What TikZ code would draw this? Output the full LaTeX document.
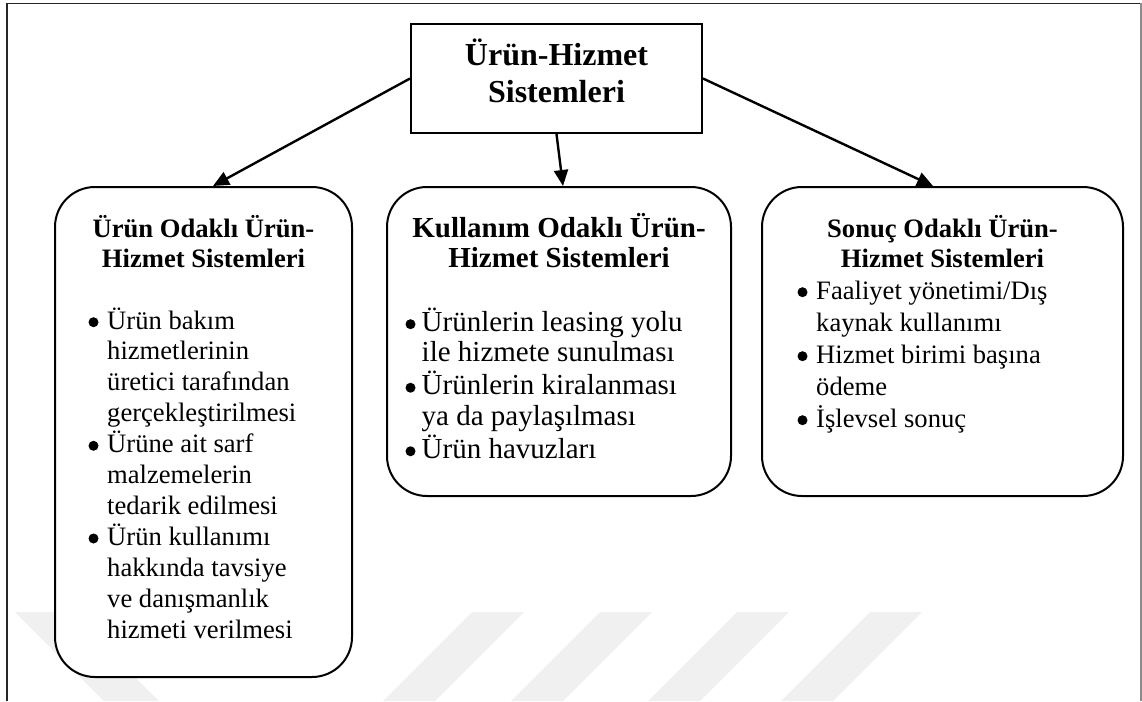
\documentclass[tikz,border=0pt]{standalone}
\usepackage{fontspec}
\setmainfont{Liberation Serif}
\usetikzlibrary{arrows.meta}

% round list bullet followed by a fixed gap before the item text
\newcommand\blt[1]{\makebox[#1][l]{\hspace{0.3pt}\raisebox{1.8pt}{\tikz\fill (0,0) circle (5pt);}}}

\begin{document}
\begin{tikzpicture}[x=1pt,y=-1pt,
  framel/.style={draw=black!85, line width=1.8pt},
  framer/.style={draw=black!45, line width=1.6pt},
  titlebox/.style={draw, line width=2pt, fill=white, minimum width=291pt,
    minimum height=109pt, inner sep=0pt},
  panel/.style={draw, line width=2pt, fill=white, rounded corners=40pt, inner sep=0pt},
  titletext/.style={inner sep=0pt, anchor=base, font=\fontsize{32}{37}\selectfont\bfseries},
  head/.style={inner sep=0pt, anchor=base, font=\fontsize{26.6}{30}\selectfont\bfseries},
  items/.style={inner sep=0pt, anchor=base west},
  arr/.style={-{Triangle[length=16pt,width=14pt]}, line width=2.4pt},
  stripe/.style={fill=black!6, draw=none}]

\useasboundingbox (0,0) rectangle (1142,701);

% faint background stripes
\fill[stripe] (15,612) -- (70,612) -- (159,701) -- (104,701) -- cycle;
\foreach \s in {472,600,737,870}
  \fill[stripe] (\s,612) -- (\s+52,612) -- (\s-37,701) -- (\s-89,701) -- cycle;

% page frame
\draw[framel] (7,701) -- (7,3.5) -- (1141,3.5);
\draw[framer] (1141,3.5) -- (1141,701);

% top box
\node[titlebox] (title) at (556.5,78.5) {};
\node[titletext] (titletxt) at (556.5,65)
  {\begin{tabular}[t]{@{}c@{}}Ürün-Hizmet\\Sistemleri\end{tabular}};

% three panels
\node[panel, minimum width=297pt, minimum height=490pt] (p1) at (203.5,432) {};
\node[panel, minimum width=344pt, minimum height=309pt] (p2) at (559,341.5) {};
\node[panel, minimum width=361pt, minimum height=309pt] (p3) at (942.5,341.5) {};

\node[head] (h1) at (203.5,237)
  {\begin{tabular}[t]{@{}c@{}}Ürün Odaklı Ürün-\\Hizmet Sistemleri\end{tabular}};
\node[head, font=\fontsize{29}{30}\selectfont\bfseries] (h2) at (559,237)
  {\begin{tabular}[t]{@{}c@{}}Kullanım Odaklı Ürün-\\Hizmet Sistemleri\end{tabular}};
\node[head] (h3) at (942.5,237)
  {\begin{tabular}[t]{@{}c@{}}Sonuç Odaklı Ürün-\\Hizmet Sistemleri\end{tabular}};

\node[items, font=\fontsize{26.6}{30.9}\selectfont] (l1) at (88,329)
  {\begin{tabular}[t]{@{}l@{}}
   \blt{19pt}Ürün bakım\\
   \hspace*{19pt}hizmetlerinin\\
   \hspace*{19pt}üretici tarafından\\
   \hspace*{19pt}gerçekleştirilmesi\\
   \blt{19pt}Ürüne ait sarf\\
   \hspace*{19pt}malzemelerin\\
   \hspace*{19pt}tedarik edilmesi\\
   \blt{19pt}Ürün kullanımı\\
   \hspace*{19pt}hakkında tavsiye\\
   \hspace*{19pt}ve danışmanlık\\
   \hspace*{19pt}hizmeti verilmesi
   \end{tabular}};

\node[items, font=\fontsize{29}{30.8}\selectfont] (l2) at (405,331)
  {\begin{tabular}[t]{@{}l@{}}
   \blt{16.5pt}Ürünlerin leasing yolu\\
   \hspace*{16.5pt}ile hizmete sunulması\\
   \blt{16.5pt}Ürünlerin kiralanması\\
   \hspace*{16.5pt}ya da paylaşılması\\
   \blt{16.5pt}Ürün havuzları
   \end{tabular}};

\node[items, font=\fontsize{26.6}{32}\selectfont] (l3) at (797,299)
  {\begin{tabular}[t]{@{}l@{}}
   \blt{19pt}Faaliyet yönetimi/Dış\\
   \hspace*{19pt}kaynak kullanımı\\
   \blt{19pt}Hizmet birimi başına\\
   \hspace*{19pt}ödeme\\
   \blt{19pt}İşlevsel sonuç
   \end{tabular}};

% connectors
\draw[arr] (title.west) -- ([xshift=9.5pt]p1.north);
\draw[arr] (title.south) -- ([xshift=4pt]p2.north);
\draw[arr] (title.east) -- ([xshift=-9.5pt]p3.north);
\end{tikzpicture}
\end{document}
